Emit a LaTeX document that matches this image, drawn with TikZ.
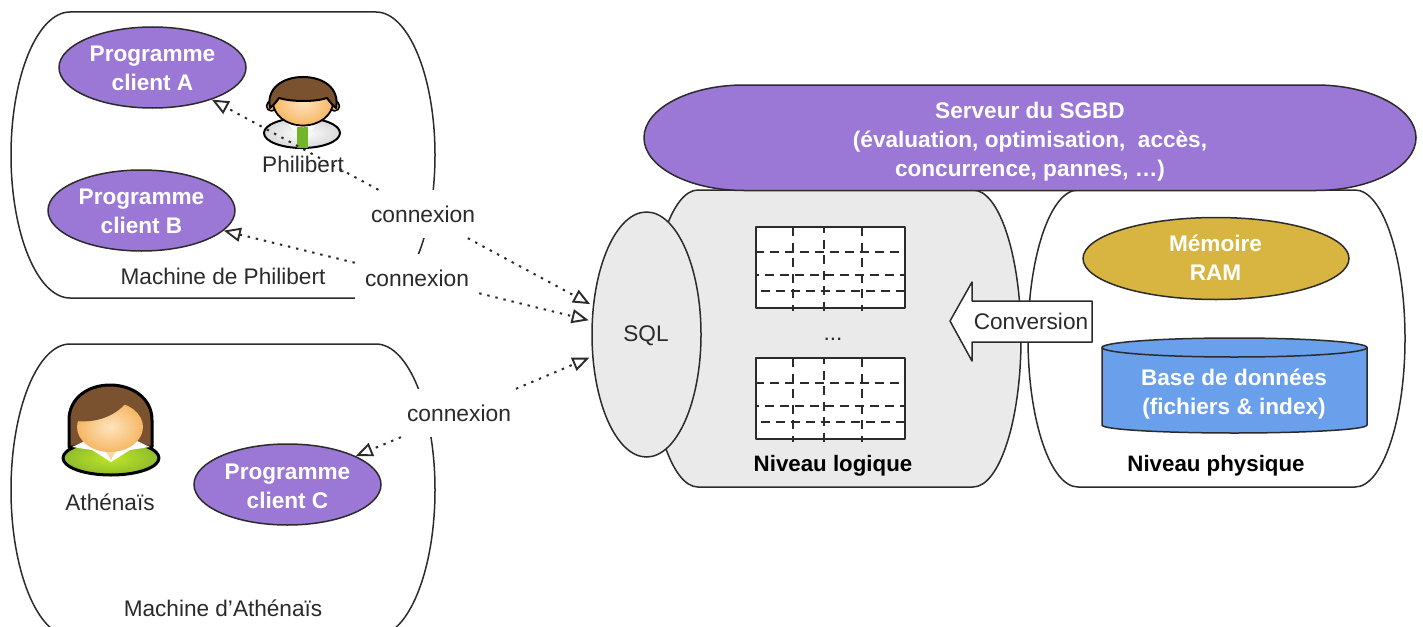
\documentclass[tikz,border=0pt]{standalone}
\usepackage{fontspec}
\setmainfont{Liberation Sans}
\usetikzlibrary{arrows.meta,shapes.geometric,calc}
\definecolor{ink}{HTML}{2B2B2B}
\definecolor{txt}{HTML}{2A2A2A}
\definecolor{violet}{HTML}{9B78D6}
\definecolor{paleg}{HTML}{EAEAEA}
\definecolor{gold}{HTML}{D8B541}
\definecolor{dbblue}{HTML}{6A9FEC}
\definecolor{hair}{HTML}{7A5230}
\definecolor{skin}{HTML}{F7B765}
\definecolor{skinl}{HTML}{FCE4BE}
\definecolor{tiegreen}{HTML}{72B52A}
\definecolor{shirt}{HTML}{A6DC35}
\newcommand{\drawblob}[6][]{%
  \pgfmathsetmacro\bxa{#2+#6}\pgfmathsetmacro\bxb{#4-#6}%
  \pgfmathsetmacro\bym{(#3+#5)/2}%
  \pgfmathsetmacro\bca{#6*0.55}%
  \pgfmathsetmacro\bcb{(#5-#3)/2*0.55}%
  \draw[ink,line width=1.5pt,#1]
    (\bxa,#3) -- (\bxb,#3)
    .. controls ({\bxb+\bca},#3) and (#4,{\bym-\bcb}) .. (#4,\bym)
    .. controls (#4,{\bym+\bcb}) and ({\bxb+\bca},#5) .. (\bxb,#5)
    -- (\bxa,#5)
    .. controls ({\bxa-\bca},#5) and (#2,{\bym+\bcb}) .. (#2,\bym)
    .. controls (#2,{\bym-\bcb}) and ({\bxa-\bca},#3) .. (\bxa,#3) -- cycle;}
\newcommand{\drawtable}[1]{%
  \begin{scope}[shift={(0,#1)}]
    \draw[ink,line width=2pt,fill=white] (756,227) rectangle (905,308);
    \foreach \yy/\ph in {252/0,275/5,291/9}
      \draw[ink,line width=1.9pt,dash pattern=on 9pt off 6pt,dash phase=\ph pt] (755,\yy) -- (906,\yy);
    \foreach \xx/\ph in {793/0,824/3,862/0}
      \draw[ink,line width=1.9pt,dash pattern=on 9pt off 6.5pt,dash phase=\ph pt] (\xx,227) -- (\xx,311);
  \end{scope}}
\tikzset{
  ell/.style={ellipse,draw=ink,line width=1.5pt,inner sep=0pt},
  progell/.style={ell,fill=violet,minimum width=187pt,minimum height=81pt},
  wtext/.style={text=white,font=\fontsize{22.6}{29}\selectfont\bfseries,align=center,inner sep=0pt},
  btext/.style={text=txt,font=\fontsize{22.6}{26}\selectfont,align=center,inner sep=0pt},
  ktext/.style={text=black,font=\fontsize{22.3}{26}\selectfont\bfseries,align=center,inner sep=0pt},
  connlabel/.style={fill=white,text=txt,font=\fontsize{22.8}{26}\selectfont,minimum width=124pt,minimum height=48pt,inner sep=0pt},
  conn/.style={ink,line width=2pt,dash pattern=on 2.4pt off 5.9pt,
    -{Triangle[open,fill=white,length=17pt,width=14pt,line width=1.9pt,sep=0pt]}},
}
\begin{document}
\begin{tikzpicture}[x=1pt,y=-1pt,line join=round]
\useasboundingbox (0,0) rectangle (1423,626);
\fill[white] (0,0) rectangle (1423,626);

% machines
\drawblob{11}{12}{435}{298}{59}
\begin{scope}
  \clip (0,0) rectangle (1423,626);
  \drawblob{11}{344}{435}{636}{59}
\end{scope}

% server internals
\drawblob[fill=paleg]{650}{190}{1021}{487}{48}
\drawblob[fill=white]{1028}{190}{1405}{487}{50}
\drawblob[fill=violet]{644}{85}{1416}{190.5}{100}
\node[ell,fill=paleg,minimum width=109pt,minimum height=245pt] (sql) at (646.5,334.5) {};
\node[btext] (sqlt) at (646,336) {SQL};
\drawtable{0}
\drawtable{131}
\node[btext] (dots) at (833,339) {...};
\node[ktext] (nlog) at (833,466) {Niveau logique};
\node[ktext] (nphy) at (1216,466) {Niveau physique};
\node[wtext] (srv) at (1030,141.5) {Serveur du SGBD\\(évaluation, optimisation,\ \ accès,\\concurrence, pannes, …)};

% memory
\node[ell,fill=gold,minimum width=266pt,minimum height=82pt] (ram) at (1216,258.5) {};
\node[wtext] (ramt) at (1215.5,258) {Mémoire\\RAM};

% database cylinder
\draw[ink,line width=1.5pt,fill=dbblue]
  (1102,347.5) -- (1102,425) .. controls (1102,430) and (1170,433) .. (1234.5,433)
  .. controls (1299,433) and (1367,430) .. (1367,425) -- (1367,347.5) -- cycle;
\draw[ink,line width=1.5pt,fill=dbblue] (1234.5,347.5) ellipse [x radius=132.5pt,y radius=9.5pt];
\node[wtext] (dbt) at (1234,394) {Base de données\\(fichiers \& index)};

% conversion arrow
\draw[ink,line width=1.5pt,fill=white]
  (950,321) -- (972,282) -- (972,301) -- (1092,301) -- (1092,342) -- (972,342) -- (972,361) -- cycle;
\node[btext] (convt) at (1031,321) {Conversion};

% Philibert icon
\begin{scope}
  \shade[inner color=white,outer color=black!15,draw=black,line width=2pt]
    (302,133) ellipse [x radius=38pt,y radius=15pt];
  \fill[white] (285,119) -- (320,119) -- (312,130) -- (293,130) -- cycle;
  \fill[tiegreen] (297,127) -- (308,127) -- (308,148) -- (297,148) -- cycle;
  \fill[skin] (293,118) -- (313,118) -- (303,128) -- cycle;
  \fill[skin,draw=black,line width=1.6pt] (271.5,106) circle (5pt);
  \fill[skin,draw=black,line width=1.6pt] (334.5,106) circle (5pt);
  \shade[inner color=skinl,outer color=skin,draw=black,line width=1.8pt]
    (303,102) ellipse [x radius=30pt,y radius=23.5pt];
  \fill[hair,draw=black,line width=2pt]
    (270,108) .. controls (266,88) and (283,77) .. (303,77)
    .. controls (323,77) and (340,88) .. (336,108)
    .. controls (332,105) and (330,102) .. (327,98)
    .. controls (315,102) and (292,102) .. (279,98)
    .. controls (276,102) and (274,105) .. (270,108) -- cycle;
\end{scope}
\node[btext] (phil) at (303,164) {Philibert};

% Athenais icon
\begin{scope}
  \fill[hair,draw=black,line width=3pt]
    (69,447) -- (69,420) .. controls (69,398) and (88,385) .. (110,385)
    .. controls (132,385) and (152,398) .. (152,420) -- (152,447) -- cycle;
  \shade[inner color=shirt!70!yellow,outer color=shirt!85!black,draw=black,line width=3pt]
    (111,458) ellipse [x radius=48pt,y radius=17pt];
  \fill[white] (72,447) -- (98,435) -- (111,460) -- (124,435) -- (150,447) -- (130,450) -- (111,462) -- (92,450) -- cycle;
  \fill[skinl!70!skin] (97,440) -- (124,440) -- (111,459) -- cycle;
  \shade[inner color=skinl,outer color=skin]
    (110,427) ellipse [x radius=33pt,y radius=25pt];
  \fill[hair]
    (76,421) .. controls (95,423) and (114,417) .. (126,403)
    .. controls (120,390) and (85,392) .. (76,421) -- cycle;
\end{scope}
\node[btext] (athe) at (110,502) {Athénaïs};

% client programs
\node[progell] (progA) at (152.5,67.5) {};
\node[wtext] (progAt) at (152.5,68.5) {Programme\\client A};
\node[progell] (progB) at (141.5,210.5) {};
\node[wtext] (progBt) at (141.5,211) {Programme\\client B};
\node[progell] (progC) at (287.5,484.5) {};
\node[wtext] (progCt) at (287.5,486) {Programme\\client C};

\node[btext] (machP) at (223,276) {Machine de Philibert};
\node[btext] (machA) at (223,608) {Machine d’Athénaïs};

% connexion labels
\node[connlabel] (c1) at (423,214) {connexion};
\node[connlabel] (c2) at (417,278) {connexion};
\node[connlabel] (c3) at (459,413) {connexion};

\draw[conn] (c1) -- (progA);
\draw[conn] (c2) -- (progB);
\draw[conn] (c3) -- (progC);
\draw[conn,shorten >=3pt] (c1) -- (sql);
\draw[conn,shorten >=3pt] (c2) -- (sql);
\draw[conn,shorten >=3pt] (c3) -- (sql.202);
\end{tikzpicture}
\end{document}
